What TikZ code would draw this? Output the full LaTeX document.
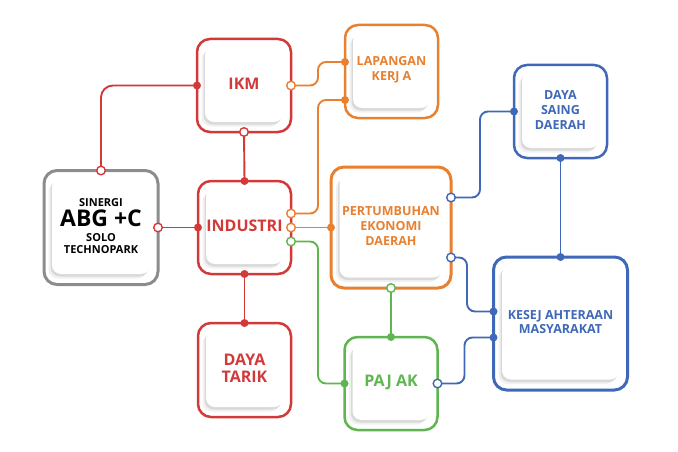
\documentclass[tikz,border=0pt]{standalone}
\usepackage{fontspec}
\setmainfont{Open Sans}
\usetikzlibrary{positioning, calc, shadows}

\definecolor{sgrey}{RGB}{140,140,140}
\definecolor{lred}{RGB}{210,58,58}
\definecolor{lorange}{RGB}{232,128,48}
\definecolor{lgreen}{RGB}{95,182,80}
\definecolor{lblue}{RGB}{64,104,184}

\begin{document}
\begin{tikzpicture}[x=1pt, y=1pt,
    frame/.style={draw=#1, line width=2.5pt, rounded corners=13pt, fill=white, outer sep=0pt},
    card/.style={fill=white, rounded corners=9pt, inner sep=0pt, align=center, text=#1,
      drop shadow={shadow xshift=-3.5pt, shadow yshift=-4.5pt, fill=black!10},
      drop shadow={shadow xshift=-1.5pt, shadow yshift=-2.5pt, fill=black!24}},
    link/.style={draw=#1, line width=1.9pt, rounded corners=8pt},
    opendot/.style={draw=#1, fill=white, line width=1.4pt},
    dot/.style={fill=#1}]

  \useasboundingbox (0,0) rectangle (678,451);

  % frames
  \node[frame=sgrey, line width=3pt, minimum width=114pt, minimum height=114pt] (sin) at (101,223.5) {};
  \node[frame=lred, minimum width=94pt, minimum height=93pt] (ikm) at (244,365.5) {};
  \node[frame=lorange, minimum width=93pt, minimum height=93pt] (lap) at (391.5,379.5) {};
  \node[frame=lred, minimum width=93pt, minimum height=93pt] (ind) at (244.5,223.5) {};
  \node[frame=lred, minimum width=93pt, minimum height=94pt] (tar) at (244.5,81) {};
  \node[frame=lorange, line width=3pt, minimum width=120pt, minimum height=121pt] (per) at (391,223.5) {};
  \node[frame=lblue, minimum width=93pt, minimum height=93pt] (sai) at (560.5,339.5) {};
  \node[frame=lgreen, minimum width=93pt, minimum height=93pt] (paj) at (391,67.5) {};
  \node[frame=lblue, line width=3pt, minimum width=134pt, minimum height=133pt] (kes) at (560.5,127.5) {};

  % cards with text
  \node[card=black, minimum width=98pt, minimum height=96pt] (sin-c) at ($(sin)+(0,1.5)$)
    {\fontsize{11}{13}\selectfont\bfseries SINERGI\\[3pt]
     {\fontsize{23}{24}\selectfont\bfseries ABG +C}\\[3pt]
     \fontsize{11}{12}\selectfont\bfseries SOLO\\
     \fontsize{11}{12}\selectfont\bfseries TECHNOPARK};
  \node[card=lred, minimum width=78pt, minimum height=76pt, font=\bfseries\fontsize{16}{18}\selectfont] (ikm-c) at ($(ikm)+(0,1.5)$) {IKM};
  \node[card=lorange, minimum width=77pt, minimum height=76pt, font=\bfseries\fontsize{12.5}{15}\selectfont] (lap-c) at ($(lap)+(0,1.5)$) {LAPANGAN\\KERJ A};
  \node[card=lred, minimum width=77pt, minimum height=76pt, font=\bfseries\fontsize{16}{18}\selectfont] (ind-c) at ($(ind)+(0,1.5)$) {INDUSTRI};
  \node[card=lred, minimum width=77pt, minimum height=77pt, font=\bfseries\fontsize{16}{17.5}\selectfont] (tar-c) at ($(tar)+(0,1.5)$) {DAYA\\TARIK};
  \node[card=lorange, minimum width=103pt, minimum height=103pt, font=\bfseries\fontsize{12.5}{15}\selectfont] (per-c) at ($(per)+(0,1.5)$) {PERTUMBUHAN\\EKONOMI\\DAERAH};
  \node[card=lblue, minimum width=77pt, minimum height=76pt, font=\bfseries\fontsize{12.5}{15}\selectfont] (sai-c) at ($(sai)+(0,1.5)$) {DAYA\\SAING\\DAERAH};
  \node[card=lgreen, minimum width=77pt, minimum height=76pt, font=\bfseries\fontsize{16}{18}\selectfont] (paj-c) at ($(paj)+(0,1.5)$) {PAJ AK};
  \node[card=lblue, minimum width=117pt, minimum height=115pt, font=\bfseries\fontsize{12.5}{14.5}\selectfont] (kes-c) at ($(kes)+(0,1.5)$) {KESEJ AHTERAAN\\MASYARAKAT};

  % side points
  \coordinate (lap-w1) at ($(lap.west)+(0,9.5)$);
  \coordinate (lap-w2) at ($(lap.west)+(0,-28.5)$);
  \coordinate (ind-e1) at ($(ind.east)+(0,14)$);
  \coordinate (ind-e3) at ($(ind.east)+(0,-14)$);
  \coordinate (per-e1) at ($(per.east)+(0,30)$);
  \coordinate (per-e2) at ($(per.east)+(0,-30)$);
  \coordinate (kes-w1) at ($(kes.west)+(0,12)$);
  \coordinate (kes-w2) at ($(kes.west)+(0,-14)$);

  % links
  \draw[link=lred, rounded corners=12pt] (sin.north) |- (ikm.west);
  \draw[link=lred] (sin.east) -- (ind.west);
  \draw[link=lred] (ikm.south) -- (ind.north);
  \draw[link=lred] (ind.south) -- (tar.north);
  \draw[link=lorange] (ikm.east) -- ++(27,0) |- (lap-w1);
  \draw[link=lorange] (ind-e1) -- ++(27,0) |- (lap-w2);
  \draw[link=lorange] (ind.east) -- (per.west);
  \draw[link=lgreen] (ind-e3) -- ++(27,0) |- (paj.west);
  \draw[link=lgreen] (per.south) -- (paj.north);
  \draw[link=lblue] (per-e1) -- ++(29,0) |- (sai.west);
  \draw[link=lblue] (per-e2) -- ++(16,0) |- (kes-w1);
  \draw[link=lblue] (sai.south) -- (kes.north);
  \draw[link=lblue] (paj.east) -- ++(27,0) |- (kes-w2);

  % open ends
  \draw[opendot=lred] (sin.north) circle (4.3pt);
  \draw[opendot=lred] (sin.east) circle (4.3pt);
  \draw[opendot=lred] (ikm.south) circle (4.3pt);
  \draw[opendot=lorange] (ikm.east) circle (4.3pt);
  \draw[opendot=lorange] (ind-e1) circle (4.3pt);
  \draw[opendot=lorange] (ind.east) circle (4.3pt);
  \draw[opendot=lgreen] (ind-e3) circle (4.3pt);
  \draw[opendot=lgreen] (per.south) circle (4.3pt);
  \draw[opendot=lblue] (per-e1) circle (4.3pt);
  \draw[opendot=lblue] (per-e2) circle (4.3pt);
  \draw[opendot=lblue] (paj.east) circle (4.3pt);

  % closed ends
  \fill[dot=lred] (ikm.west) circle (4pt);
  \fill[dot=lred] (ind.west) circle (4pt);
  \fill[dot=lred] (ind.north) circle (4pt);
  \fill[dot=lred] (ind.south) circle (4pt);
  \fill[dot=lred] (tar.north) circle (4pt);
  \fill[dot=lorange] (lap-w1) circle (4pt);
  \fill[dot=lorange] (lap-w2) circle (4pt);
  \fill[dot=lorange] (per.west) circle (4pt);
  \fill[dot=lgreen] (paj.west) circle (4pt);
  \fill[dot=lgreen] (paj.north) circle (4pt);
  \fill[dot=lblue] (sai.west) circle (4pt);
  \fill[dot=lblue] (sai.south) circle (4pt);
  \fill[dot=lblue] (kes.north) circle (4pt);
  \fill[dot=lblue] (kes-w1) circle (4pt);
  \fill[dot=lblue] (kes-w2) circle (4pt);
\end{tikzpicture}
\end{document}
